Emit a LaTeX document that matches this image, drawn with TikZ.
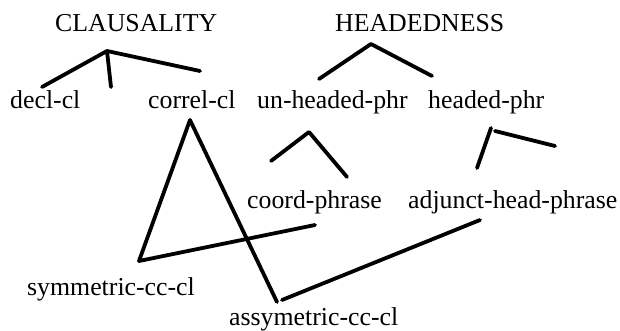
\documentclass[tikz,border=0pt]{standalone}
\usepackage{fontspec}
\setmainfont{Liberation Serif}
\begin{document}
\begin{tikzpicture}[x=1pt,y=-1pt,
  lbl/.style={anchor=base west,inner sep=0pt,font=\fontsize{25.8}{30}\selectfont},
  edge/.style={line width=3.8pt,line cap=round,line join=round}]
\useasboundingbox (0,0) rectangle (620,331);
% type names
\node[lbl] (claus) at (55,32) {CLAUSALITY};
\node[lbl] (head) at (335,32) {HEADEDNESS};
\node[lbl] (decl) at (10,109) {decl-cl};
\node[lbl] (correl) at (148,109) {correl-cl};
\node[lbl] (unhd) at (257,109) {un-headed-phr};
\node[lbl] (hdph) at (428,109) {headed-phr};
\node[lbl] (coord) at (247,208) {coord-phrase};
\node[lbl] (adjh) at (408,208) {adjunct-head-phrase};
\node[lbl] (sym) at (27,295) {symmetric-cc-cl};
\node[lbl] (asym) at (229,325) {assymetric-cc-cl};
% attachment points of the branches
\coordinate (clA) at (107,51);
\coordinate (clL) at (42,87);
\coordinate (clM) at (111,87);
\coordinate (clR) at (200,71);
\coordinate (hdA) at (371,44);
\coordinate (hdL) at (319,79);
\coordinate (hdR) at (432,76);
\coordinate (crA) at (190,120);
\coordinate (syA) at (139,261);
\coordinate (asA) at (277,302);
\coordinate (asB) at (282,300);
\coordinate (unA) at (309,132);
\coordinate (unL) at (271,161);
\coordinate (unR) at (347,177);
\coordinate (coR) at (315,225);
\coordinate (hpA) at (491,128);
\coordinate (hpL) at (477,168);
\coordinate (hpB) at (495,131);
\coordinate (hpR) at (555,146);
\coordinate (adL) at (480,220);
% branches
\draw[edge] (clL) -- (clA) -- (clM);
\draw[edge] (clA) -- (clR);
\draw[edge] (hdL) -- (hdA) -- (hdR);
\draw[edge] (syA) -- (crA) -- (asA);
\draw[edge] (syA) -- (coR);
\draw[edge] (asB) -- (adL);
\draw[edge] (unL) -- (unA) -- (unR);
\draw[edge] (hpA) -- (hpL);
\draw[edge] (hpB) -- (hpR);
\end{tikzpicture}
\end{document}
